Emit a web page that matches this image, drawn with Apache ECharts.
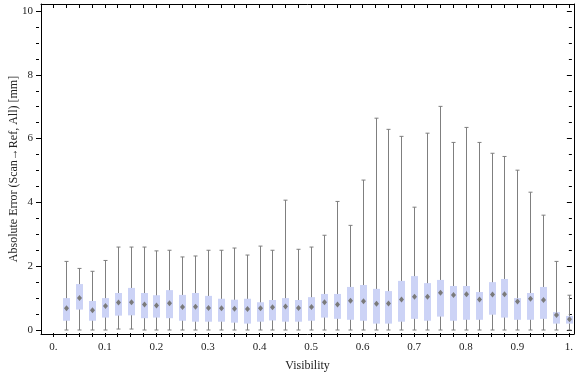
<!DOCTYPE html>
<html>
<head>
<meta charset="utf-8">
<style>
  html, body { margin: 0; padding: 0; background: #fff; }
  #chart { width: 576px; height: 377px; }
</style>
<script src="https://cdn.jsdelivr.net/npm/echarts@6.0.0/dist/echarts.min.js"></script>
</head>
<body>
<div id="chart"></div>
<script>
// visibility bins (box centres)
var visibility = [0.025, 0.05, 0.075, 0.1, 0.125, 0.15, 0.175, 0.2, 0.225, 0.25,
                  0.275, 0.3, 0.325, 0.35, 0.375, 0.4, 0.425, 0.45, 0.475, 0.5,
                  0.525, 0.55, 0.575, 0.6, 0.625, 0.65, 0.675, 0.7, 0.725, 0.75,
                  0.775, 0.8, 0.825, 0.85, 0.875, 0.9, 0.925, 0.95, 0.975, 1.0];
// whisker ends, quartiles and mean (mm)
var whiskerLow = [0, 0, 0, 0, 0.03, 0.03, 0, 0, 0, 0,
                  0, 0, 0, 0, 0, 0, 0, 0, 0, 0,
                  0, 0, 0, 0, 0, 0, 0, 0, 0, 0,
                  0, 0, 0, 0, 0, 0, 0, 0, 0, 0];
var quartile1 = [0.29, 0.64, 0.29, 0.39, 0.45, 0.46, 0.37, 0.39, 0.37, 0.29,
                 0.26, 0.26, 0.26, 0.23, 0.20, 0.26, 0.30, 0.26, 0.26, 0.29,
                 0.39, 0.35, 0.32, 0.29, 0.20, 0.20, 0.26, 0.35, 0.29, 0.42,
                 0.29, 0.32, 0.32, 0.48, 0.39, 0.32, 0.32, 0.35, 0.20, 0.20];
var meanValue = [0.68, 1.00, 0.62, 0.75, 0.86, 0.87, 0.80, 0.77, 0.84, 0.72,
                 0.73, 0.69, 0.68, 0.67, 0.66, 0.68, 0.71, 0.74, 0.69, 0.72,
                 0.87, 0.80, 0.92, 0.90, 0.82, 0.83, 0.96, 1.04, 1.04, 1.17,
                 1.10, 1.12, 0.96, 1.11, 1.12, 0.89, 0.98, 0.94, 0.47, 0.34];
var quartile3 = [1.00, 1.44, 0.91, 1.00, 1.16, 1.32, 1.16, 1.09, 1.25, 1.10,
                 1.16, 1.07, 0.98, 0.95, 0.98, 0.87, 0.94, 1.00, 0.94, 1.03,
                 1.13, 1.13, 1.35, 1.41, 1.29, 1.22, 1.54, 1.69, 1.47, 1.57,
                 1.38, 1.38, 1.19, 1.50, 1.60, 1.00, 1.16, 1.35, 0.56, 0.44];
var whiskerHigh = [2.15, 1.93, 1.84, 2.18, 2.60, 2.60, 2.60, 2.48, 2.50, 2.29,
                   2.32, 2.50, 2.50, 2.57, 2.35, 2.63, 2.50, 4.07, 2.53, 2.60,
                   2.97, 4.03, 3.28, 4.70, 6.64, 6.29, 6.07, 3.85, 6.17, 7.01,
                   5.88, 6.35, 5.88, 5.54, 5.44, 5.01, 4.32, 3.60, 2.15, 1.09];
var xTickLabels = ['0.', '0.1', '0.2', '0.3', '0.4', '0.5', '0.6', '0.7', '0.8', '0.9', '1.'];

var font = 'Liberation Serif';
var myChart = echarts.init(document.getElementById('chart'));

var boxData = visibility.map(function(v, i) {
    return [v, whiskerLow[i], quartile1[i], meanValue[i], quartile3[i], whiskerHigh[i]];
});

function renderBox(params, api) {
    var x = api.value(0);
    var pLow = api.coord([x, api.value(1)]);
    var pQ1 = api.coord([x, api.value(2)]);
    var pMean = api.coord([x, api.value(3)]);
    var pQ3 = api.coord([x, api.value(4)]);
    var pHigh = api.coord([x, api.value(5)]);
    var cx = Math.round(pLow[0]) + 0.5;
    var half = 3.5, cap = 2;
    var grey = '#7f7f7f';
    return {
        type: 'group',
        children: [
            { type: 'line', shape: { x1: cx, y1: pLow[1], x2: cx, y2: pHigh[1] }, style: { stroke: grey, lineWidth: 1 } },
            { type: 'line', shape: { x1: cx - cap, y1: pLow[1], x2: cx + cap, y2: pLow[1] }, style: { stroke: grey, lineWidth: 1 } },
            { type: 'line', shape: { x1: cx - cap, y1: pHigh[1], x2: cx + cap, y2: pHigh[1] }, style: { stroke: grey, lineWidth: 1 } },
            { type: 'rect', shape: { x: cx - half, y: pQ3[1], width: half * 2, height: pQ1[1] - pQ3[1] }, style: { fill: '#ccd3f6' } },
            { type: 'polygon', shape: { points: [[cx, pMean[1] - 3], [cx + 2.5, pMean[1]], [cx, pMean[1] + 3], [cx - 2.5, pMean[1]]] }, style: { fill: '#7a7a7a' } }
        ]
    };
}

var tickStyle = { color: '#000', width: 1 };
var hiddenLine = { show: false, onZero: false };
var frameLine = { show: true, onZero: false, lineStyle: tickStyle };

var option = {
    animation: false,
    grid: [
        { left: 53.3, right: 5.2, top: 11, bottom: 47 },
        { left: 36, right: 2, top: 4, bottom: 40 }
    ],
    xAxis: [{
        gridIndex: 0, type: 'value', min: 0, max: 1, interval: 0.1,
        position: 'bottom', offset: 7,
        axisLine: hiddenLine,
        axisTick: { show: true, inside: true, length: 4, lineStyle: tickStyle },
        minorTick: { show: true, splitNumber: 4, length: 4, lineStyle: tickStyle },
        splitLine: { show: false },
        axisLabel: {
            margin: 5, fontFamily: font, fontSize: 11, color: '#222',
            formatter: function(v) { return xTickLabels[Math.round(v * 10)]; }
        }
    }, {
        gridIndex: 0, type: 'value', min: 0, max: 1, interval: 0.1,
        position: 'top', offset: 7,
        axisLine: hiddenLine,
        axisTick: { show: true, inside: true, length: 4, lineStyle: tickStyle },
        minorTick: { show: true, splitNumber: 4, length: 4, lineStyle: tickStyle },
        splitLine: { show: false },
        axisLabel: { show: false }
    }, {
        gridIndex: 1, type: 'value', min: 0, max: 1, position: 'bottom',
        axisLine: frameLine,
        axisTick: { show: false }, axisLabel: { show: false }, splitLine: { show: false },
        name: 'Visibility', nameLocation: 'middle', nameGap: 26,
        nameTextStyle: { fontFamily: font, fontSize: 12, color: '#222' }
    }, {
        gridIndex: 1, type: 'value', min: 0, max: 1, position: 'top',
        axisLine: frameLine,
        axisTick: { show: false }, axisLabel: { show: false }, splitLine: { show: false }
    }],
    yAxis: [{
        gridIndex: 0, type: 'value', min: 0, max: 10, interval: 2,
        position: 'left', offset: 17.3,
        axisLine: hiddenLine,
        axisTick: { show: true, inside: true, length: 5, lineStyle: tickStyle },
        minorTick: { show: true, splitNumber: 4, length: 3, lineStyle: tickStyle },
        splitLine: { show: false },
        axisLabel: { margin: 3, fontFamily: font, fontSize: 11, color: '#222' }
    }, {
        gridIndex: 0, type: 'value', min: 0, max: 10, interval: 2,
        position: 'right', offset: 3,
        axisLine: hiddenLine,
        axisTick: { show: true, inside: true, length: 5, lineStyle: tickStyle },
        minorTick: { show: true, splitNumber: 4, length: 3, lineStyle: tickStyle },
        splitLine: { show: false },
        axisLabel: { show: false }
    }, {
        gridIndex: 1, type: 'value', min: 0, max: 1, position: 'left',
        axisLine: frameLine,
        axisTick: { show: false }, axisLabel: { show: false }, splitLine: { show: false },
        name: 'Absolute Error (Scan\u2192Ref, All) [mm]', nameLocation: 'middle', nameGap: 21,
        nameTextStyle: { fontFamily: font, fontSize: 12, color: '#222' }
    }, {
        gridIndex: 1, type: 'value', min: 0, max: 1, position: 'right',
        axisLine: frameLine,
        axisTick: { show: false }, axisLabel: { show: false }, splitLine: { show: false }
    }],
    series: [{
        type: 'custom',
        xAxisIndex: 0,
        yAxisIndex: 0,
        renderItem: renderBox,
        encode: { x: 0, y: [1, 2, 3, 4, 5] },
        data: boxData
    }]
};

myChart.setOption(option);
</script>
</body>
</html>
